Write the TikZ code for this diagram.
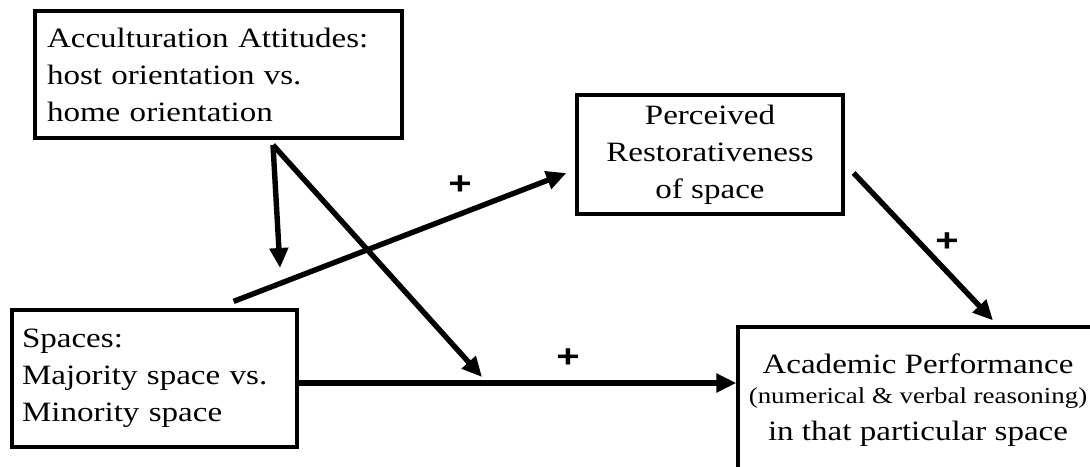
\documentclass[tikz,border=0pt]{standalone}
\usepackage{fontspec}
\setmainfont{Liberation Serif}[FakeStretch=1.18]
\newfontfamily\plusfont{Liberation Sans}[FakeStretch=1.25]
\usetikzlibrary{arrows.meta}
\tikzset{
    box/.style={draw, line width=1.6pt, inner sep=0pt, font=\fontsize{14}{18.5}\selectfont}, % variable boxes
    path arrow/.style={line width=2.7pt, -{Triangle[length=10pt, width=9pt]}}, % thick path arrows
    sign/.style={inner sep=0pt, font=\plusfont\bfseries\fontsize{16}{16}\selectfont} % + labels
}

\begin{document}
\begin{tikzpicture}[x=0.5pt, y=-0.5pt]
    \useasboundingbox (0,0) rectangle (1090,466);
    \clip (0,0) rectangle (1090,466);

    \node[box, align=left, inner xsep=6pt, text width=171.5pt, minimum height=63.5pt] (accult) at (218.5,74.5) {Acculturation Attitudes:\\host orientation vs.\\home orientation};
    \node[box, align=center, minimum width=133pt, minimum height=59.5pt] (restor) at (710,154.5) {Perceived\\Restorativeness\\of space};
    \node[box, align=left, inner xsep=5pt, text width=132.5pt, minimum height=68.5pt] (spaces) at (154.5,378.5) {Spaces:\\Majority space vs.\\Minority space};
    \node[box, align=center, minimum width=180pt, minimum height=73pt] (perform) at (918,400) {Academic Performance\\[-3.5pt]{\fontsize{11.4}{13}\selectfont (numerical \& verbal reasoning)}\\in that particular space};

    \coordinate (split) at (273,145);
    \coordinate (modA) at (280,268);
    \coordinate (modB) at (482,377);

    \draw[path arrow] (split) -- (modA);
    \draw[path arrow] (split) -- (modB);
    \draw[path arrow] ([shift={(-65,-7)}]spaces.north east) -- ([shift={(-9,18.5)}]restor.west);
    \draw[path arrow] ([shift={(0,4.5)}]spaces.east) -- ([shift={(0,-17)}]perform.west);
    \draw[path arrow] ([shift={(9,18.5)}]restor.east) -- ([shift={(75,-5)}]perform.north);

    \node[sign] (plus1) at (460,185) {+};
    \node[sign] (plus2) at (568,358) {+};
    \node[sign] (plus3) at (947,242) {+};
\end{tikzpicture}
\end{document}
